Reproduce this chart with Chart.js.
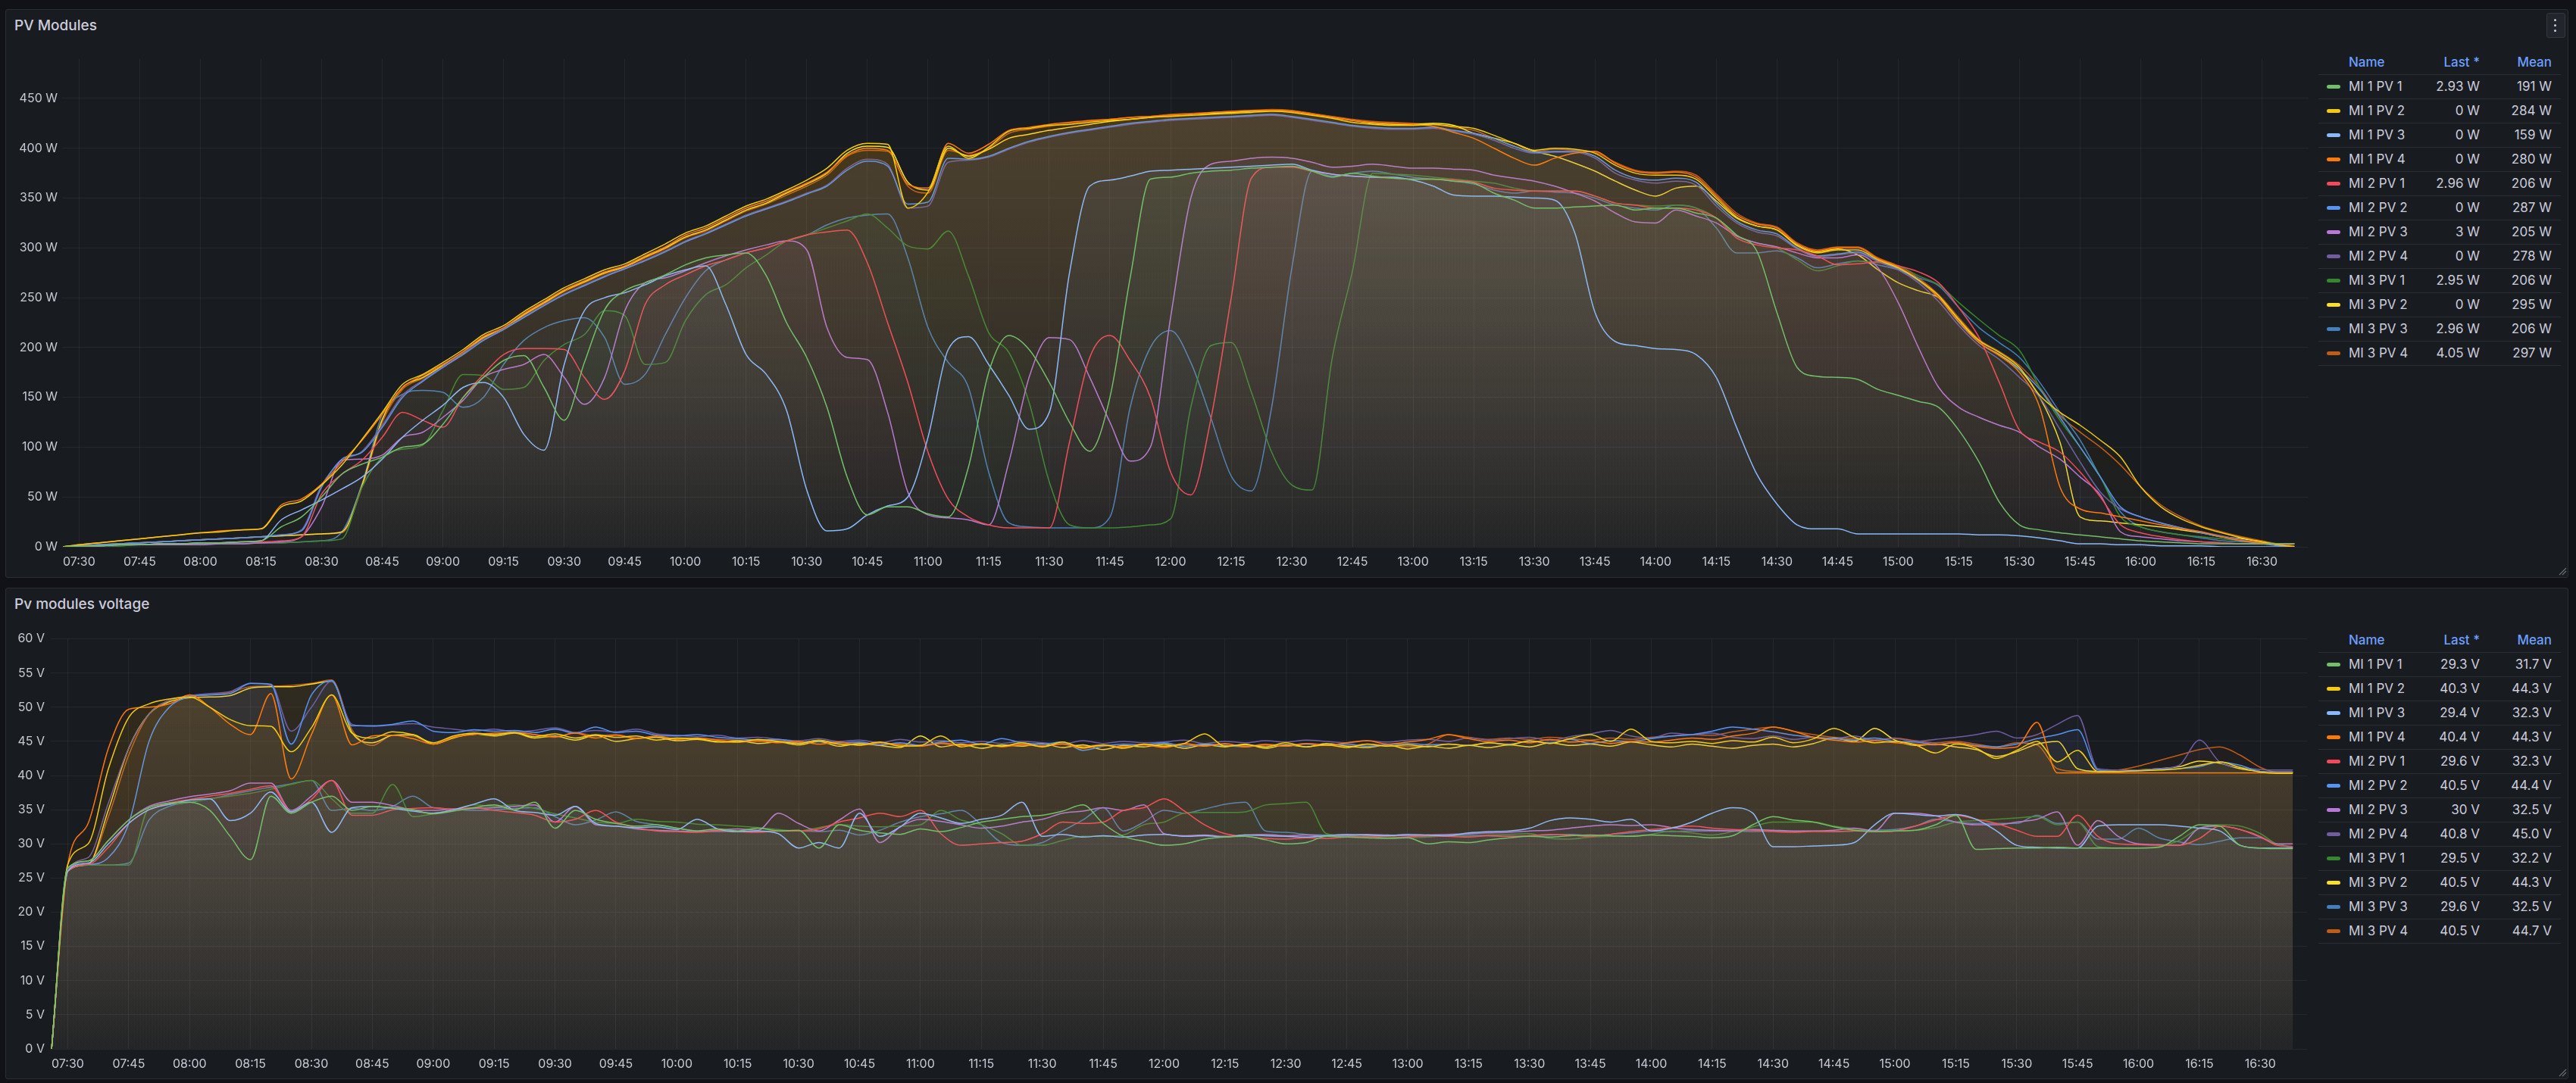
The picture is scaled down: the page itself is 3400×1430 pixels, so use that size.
<!DOCTYPE html>
<html>
<head>
<meta charset="utf-8">
<script src="https://cdn.jsdelivr.net/npm/chart.js@4.4.1/dist/chart.umd.min.js"></script>
<style>
  body { margin: 0; width: 3400px; height: 1430px; background: #111217; font-family: Inter, sans-serif; position: relative; overflow: hidden; }
  .panel { position: absolute; left: 7px; width: 3381px; background: #181b1f; border: 1px solid #2b2e34; border-radius: 3px; }
  .title { position: absolute; left: 19px; font-size: 19px; line-height: 24px; font-weight: 500; color: #ccccdc; }
  canvas { position: absolute; }
  .lg { position: absolute; font-size: 17px; line-height: 20px; color: #ccccdc; white-space: nowrap; }
  .hd { color: #6e9fff; font-weight: 500; }
  .r { text-align: right; width: 120px; }
  .sep { position: absolute; left: 3060px; width: 320px; height: 1px; background: #2a2d33; }
  .sw { position: absolute; left: 3071px; width: 18px; height: 5px; border-radius: 3px; }
</style>
</head>
<body>
<div class="panel" style="top:12px;height:749px"></div>
<div class="panel" style="top:776px;height:647px"></div>
<div class="title" style="top:22px">PV Modules</div>
<div class="title" style="top:786px">Pv modules voltage</div>
<div style="position:absolute;left:3361px;top:17px;width:23px;height:31px;background:#22252b;border:1px solid #34373e;border-radius:3px"></div>
<div style="position:absolute;left:3371px;top:25px;width:3px;height:3px;border-radius:2px;background:#ccccdc"></div>
<div style="position:absolute;left:3371px;top:32px;width:3px;height:3px;border-radius:2px;background:#ccccdc"></div>
<div style="position:absolute;left:3371px;top:39px;width:3px;height:3px;border-radius:2px;background:#ccccdc"></div>
<svg style="position:absolute;left:3376px;top:748px" width="12" height="12"><path d="M2 11 L11 2 M6 11 L11 6" stroke="#6b6e75" stroke-width="1.2"/></svg>
<svg style="position:absolute;left:3376px;top:1410px" width="12" height="12"><path d="M2 11 L11 2 M6 11 L11 6" stroke="#6b6e75" stroke-width="1.2"/></svg>
<canvas id="power" width="3040" height="702" style="left:10px;top:60px;width:3040px;height:702px"></canvas>
<canvas id="voltage" width="3040" height="599" style="left:10px;top:826px;width:3040px;height:599px"></canvas>
<script>
// sample times (about every 5 minutes)
const times = [
  '07:26','07:30','07:35','07:40','07:45','07:50','07:55','08:00','08:05','08:10','08:15','08:20',
  '08:25','08:30','08:35','08:40','08:45','08:50','08:55','09:00','09:05','09:10','09:15','09:20',
  '09:25','09:30','09:35','09:40','09:45','09:50','09:55','10:00','10:05','10:10','10:15','10:20',
  '10:25','10:30','10:35','10:40','10:45','10:50','10:55','11:00','11:05','11:10','11:15','11:20',
  '11:25','11:30','11:35','11:40','11:45','11:50','11:55','12:00','12:05','12:10','12:15','12:20',
  '12:25','12:30','12:35','12:40','12:45','12:50','12:55','13:00','13:05','13:10','13:15','13:20',
  '13:25','13:30','13:35','13:40','13:45','13:50','13:55','14:00','14:05','14:10','14:15','14:20',
  '14:25','14:30','14:35','14:40','14:45','14:50','14:55','15:00','15:05','15:10','15:15','15:20',
  '15:25','15:30','15:35','15:40','15:45','15:50','15:55','16:00','16:05','16:10','16:15','16:20',
  '16:25','16:30','16:34','16:38'];

const xTickLabels = ['07:30','07:45','08:00','08:15','08:30','08:45','09:00','09:15','09:30','09:45',
  '10:00','10:15','10:30','10:45','11:00','11:15','11:30','11:45','12:00','12:15','12:30','12:45',
  '13:00','13:15','13:30','13:45','14:00','14:15','14:30','14:45','15:00','15:15','15:30','15:45',
  '16:00','16:15','16:30'];
const powerTicks = [0, 50, 100, 150, 200, 250, 300, 350, 400, 450];
const voltTicks = [0, 5, 10, 15, 20, 25, 30, 35, 40, 45, 50, 55, 60];

const seriesNames = ['MI 1 PV 1','MI 1 PV 2','MI 1 PV 3','MI 1 PV 4','MI 2 PV 1','MI 2 PV 2',
  'MI 2 PV 3','MI 2 PV 4','MI 3 PV 1','MI 3 PV 2','MI 3 PV 3','MI 3 PV 4'];
const colors = ['#73BF69','#F2CC0C','#8AB8FF','#FF780A','#F2495C','#5794F2',
  '#B877D9','#705DA0','#37872D','#FADE2A','#447EBC','#C15C17'];

const powerLast = [2.93, 0, 0, 0, 2.96, 0, 3, 0, 2.95, 0, 2.96, 4.05];
const powerMean = [191, 284, 159, 280, 206, 287, 205, 278, 206, 295, 206, 297];
const voltLast = [29.3, 40.3, 29.4, 40.4, 29.6, 40.5, 30, 40.8, 29.5, 40.5, 29.6, 40.5];
const voltMean = [31.7, 44.3, 32.3, 44.3, 32.3, 44.4, 32.5, 45.0, 32.2, 44.3, 32.5, 44.7];

// ---- power (W) ----
const powerMI1PV1 = [0,1,1,2,2,3,3,4,4,5,6,20,
  30,50,73,83,90,100,103,123,150,170,187,192,
  160,127,185,238,257,265,273,283,290,293,295,272,
  225,190,140,70,32,40,40,33,30,80,175,212,
  198,165,125,96,150,270,369,371,375,377,378,380,
  381,382,377,371,375,372,370,369,369,367,365,355,
  348,340,340,341,342,343,338,340,340,335,330,313,
  297,235,180,171,170,168,158,152,146,140,117,85,
  45,22,17,14,12,10,8,6,5,4,3,3,
  3,3,3,3];
const powerMI1PV2 = [0,2,4,6,8,10,12,14,15,17,18,40,
  46,62,82,108,135,163,173,185,198,213,222,236,
  248,260,269,278,284,294,304,315,322,332,342,349,
  358,368,380,398,405,404,340,356,402,390,401,417,
  420,423,424,426,428,429,431,432,433,434,435,436,
  437,436,433,430,426,424,423,423,424,422,420,413,
  405,398,400,399,395,383,375,373,373,369,350,331,
  322,318,302,295,298,298,288,280,268,252,228,207,
  195,180,152,135,122,107,90,60,40,28,20,14,
  9,5,2,0];
const powerMI1PV3 = [0,1,1,2,2,3,3,4,4,5,6,27,
  37,47,58,70,88,110,127,142,160,165,150,113,
  97,183,237,250,255,263,272,278,282,243,193,173,
  137,57,16,18,32,41,50,110,198,211,183,152,
  118,135,275,362,368,372,377,378,379,380,381,382,
  383,384,378,374,372,371,371,368,362,353,352,352,
  351,350,348,315,235,206,202,199,198,193,170,120,
  73,43,22,18,18,13,13,13,13,13,13,12,
  12,11,9,6,3,3,2,2,1,1,1,0,
  0,0,0,0];
const powerMI1PV4 = [0,2,4,6,8,10,12,14,16,17,18,42,
  48,63,85,107,133,160,172,183,196,211,220,234,
  246,258,267,276,282,292,301,313,320,330,340,347,
  356,365,376,393,400,398,364,360,405,395,404,418,
  421,424,426,428,429,431,432,433,434,436,437,438,
  438,437,434,431,428,426,425,424,422,416,410,400,
  390,383,390,395,397,385,377,375,376,371,352,333,
  324,320,304,297,300,300,289,281,268,250,226,205,
  192,175,140,60,38,34,30,26,22,18,15,10,
  6,4,2,0];
const powerMI2PV1 = [0,1,1,2,2,3,3,4,4,5,5,6,
  10,53,73,87,110,135,127,120,150,173,193,199,
  199,198,170,148,177,243,263,273,282,288,295,300,
  307,313,316,318,285,225,165,95,48,30,22,19,
  19,19,105,190,212,187,150,75,52,129,250,370,
  381,381,377,374,372,371,370,369,369,368,366,360,
  358,357,357,357,352,345,343,340,340,338,330,310,
  303,300,298,292,283,284,286,282,276,265,240,210,
  165,117,105,95,75,50,22,14,10,7,5,4,
  3,3,3,3];
const powerMI2PV2 = [0,1,2,3,4,5,6,7,8,9,10,12,
  16,60,88,95,120,150,166,180,193,207,218,230,
  242,253,262,271,279,287,296,306,314,323,332,339,
  346,354,362,378,387,382,344,346,390,389,392,400,
  407,412,416,419,422,425,427,429,430,431,432,433,
  434,432,429,426,423,421,420,420,421,418,415,410,
  402,396,397,397,392,378,370,368,370,366,345,327,
  318,314,300,292,294,296,287,279,267,250,225,205,
  192,178,158,130,100,70,40,30,24,19,14,10,
  6,3,1,0];
const powerMI2PV3 = [0,1,1,2,2,2,2,2,3,3,4,5,
  10,40,87,88,92,110,115,130,147,170,178,183,
  193,170,143,170,237,265,270,277,285,292,298,303,
  307,298,220,190,188,135,55,32,29,27,22,85,
  170,210,208,170,125,86,100,230,350,384,387,390,
  391,390,386,381,382,384,382,380,380,379,378,373,
  370,367,362,355,347,335,326,325,338,332,325,312,
  305,301,295,290,290,293,280,245,200,160,140,130,
  122,115,100,88,70,52,15,10,8,6,5,4,
  3,3,3,3];
const powerMI2PV4 = [0,1,2,3,4,5,6,7,8,9,10,12,
  17,62,86,96,122,152,167,181,195,208,219,231,
  243,254,263,272,280,288,297,307,315,324,333,340,
  347,355,363,380,389,384,340,342,386,388,391,399,
  406,411,415,418,421,424,426,428,429,430,431,432,
  433,431,428,425,422,420,419,419,420,417,414,408,
  400,395,396,396,390,375,368,365,367,363,342,325,
  316,312,299,291,293,295,286,278,265,246,222,202,
  188,170,150,118,85,55,38,30,24,19,15,11,
  7,4,2,0];
const powerMI3PV1 = [0,1,1,1,2,2,2,3,3,3,4,4,
  5,6,8,60,90,98,102,137,173,172,158,160,
  187,203,213,237,232,183,185,227,253,263,280,293,
  307,313,320,327,334,320,302,299,317,272,215,195,
  145,65,22,19,19,20,22,28,140,202,205,155,
  95,62,57,190,277,375,374,373,371,369,367,365,
  360,357,357,357,352,345,343,342,343,340,330,312,
  305,300,288,277,282,287,285,282,272,263,245,228,
  212,197,160,127,100,70,30,20,15,12,10,8,
  6,4,3,3];
const powerMI3PV2 = [0,1,2,3,4,5,6,7,8,9,10,11,
  12,13,15,62,128,160,170,182,195,210,219,233,
  245,257,266,275,281,291,300,311,318,328,338,345,
  355,364,375,395,402,401,366,358,400,392,399,410,
  414,418,421,424,427,429,431,433,434,435,436,437,
  438,437,434,431,428,425,424,424,425,423,415,410,
  405,397,392,385,377,367,358,352,360,362,347,330,
  322,318,303,296,299,293,278,265,257,250,228,205,
  193,178,150,105,30,26,24,22,20,17,14,10,
  8,5,2,0];
const powerMI3PV3 = [0,1,1,1,2,2,2,3,3,3,4,4,
  5,6,15,63,133,153,157,155,140,150,183,207,
  220,227,230,210,163,173,213,250,277,288,295,300,
  307,313,323,330,333,334,290,220,185,160,75,24,
  20,19,19,19,30,140,200,217,185,129,71,56,
  140,280,377,372,375,377,374,371,369,367,364,358,
  355,357,356,355,350,343,340,338,343,340,320,295,
  295,297,290,280,284,287,283,278,270,262,240,220,
  205,190,165,135,107,70,35,20,15,12,9,6,
  5,4,3,3];
const powerMI3PV4 = [0,1,2,3,4,5,6,7,8,9,10,11,
  12,13,14,60,125,158,169,181,194,209,218,232,
  244,256,265,274,281,290,299,310,317,327,337,344,
  353,362,373,392,398,397,362,355,398,393,400,415,
  419,422,425,427,429,431,432,434,435,436,437,438,
  439,438,435,432,429,427,426,425,424,421,418,410,
  402,397,399,398,396,386,378,376,377,373,354,335,
  325,321,305,298,301,301,290,282,270,253,230,208,
  196,182,160,132,115,100,82,60,42,30,21,15,
  10,6,3,1];

// ---- voltage (V) ----
const voltMI1PV1 = [0,26.5,27.5,30.5,33.5,35.3,36.0,36.1,34.9,31.1,27.7,37.0,
  34.5,36.1,37.0,34.9,35.5,35.3,35.0,34.4,34.8,35.3,35.7,35.0,
  36.1,32.3,34.9,33.6,33.0,32.6,32.8,32.3,31.9,32.2,31.9,32.3,
  31.9,32.0,29.4,32.8,32.0,31.6,31.4,32.2,31.8,32.4,33.2,33.6,
  34.0,34.2,34.8,35.7,33.0,31.1,30.4,29.8,30.0,30.7,31.0,31.1,
  30.6,30.0,30.2,31.1,31.0,30.9,30.8,30.9,30.0,30.3,30.2,30.6,
  30.9,31.1,31.0,31.2,31.3,31.2,31.1,31.3,31.2,31.1,30.9,31.2,
  32.8,34.0,33.5,33.2,32.5,32.0,31.8,31.9,32.0,32.8,34.2,29.2,
  29.3,29.4,29.4,29.5,29.4,29.4,29.4,29.4,29.5,31.1,32.8,32.6,
  29.8,29.4,29.3,29.3];
const voltMI1PV2 = [0,27,30,41,48.5,50.5,51.2,51.5,50.0,48.2,47.3,47.2,
  43.5,47.0,51.8,46.2,45.5,46.4,46.0,44.8,45.8,46.2,46.0,46.3,
  45.7,46.1,45.5,46.0,45.6,45.8,45.2,45.5,45.4,45.0,44.9,45.3,
  45.0,44.7,45.2,44.6,44.5,44.9,44.3,44.4,45.8,44.2,44.6,44.3,
  44.8,44.2,44.9,44.1,44.5,44.0,44.6,44.3,44.7,46.1,44.3,44.5,
  44.2,44.8,44.2,44.5,44.1,44.6,44.3,44.5,44.2,44.6,44.4,44.8,
  44.5,45.1,44.7,45.4,46.0,45.0,46.8,45.0,44.8,45.0,44.7,45.1,
  44.9,45.6,44.8,45.4,46.9,45.6,44.8,45.0,44.5,43.3,44.6,44.0,
  42.5,43.7,45.0,42.0,43.7,40.6,40.6,40.7,40.8,41.0,41.5,42.0,
  41.2,40.5,40.3,40.3];
const voltMI1PV3 = [0,26,27.2,30.0,33.0,35.0,35.8,36.4,36.6,33.4,34.5,37.6,
  34.7,36.1,31.7,35.3,35.5,35.2,34.8,34.5,35.0,35.8,36.6,34.9,
  34.6,34.2,35.5,33.0,32.6,32.4,32.5,32.1,33.6,32.2,31.8,31.9,
  31.5,29.4,30.2,29.4,34.5,31.1,32.5,34.5,33.8,33.0,33.6,34.2,
  36.1,31.1,31.4,31.0,31.2,31.0,31.3,31.4,31.1,31.2,31.0,31.3,
  31.2,31.1,31.0,31.2,31.4,31.3,31.2,31.4,31.3,31.2,31.6,31.8,
  31.9,32.3,33.4,33.8,33.6,33.2,33.6,31.9,32.3,33.2,34.5,35.3,
  34.5,29.6,29.6,29.7,29.8,30.2,32.8,34.5,34.3,34.1,34.3,33.6,
  31.9,29.8,29.5,29.4,29.4,32.6,32.8,32.8,32.8,32.6,32.3,31.9,
  29.8,29.4,29.4,29.4];
const voltMI1PV4 = [0,27,33,44,49.7,50.0,50.5,51.8,50.0,47.5,46.0,52.0,
  39.5,46.0,51.8,44.5,45.8,45.9,45.4,44.6,45.6,46.0,46.2,46.3,
  46.0,45.7,46.2,45.5,45.9,45.4,45.8,45.3,45.5,45.2,44.9,45.1,
  44.8,45.0,44.6,44.9,44.4,44.8,44.5,44.3,44.7,44.4,44.6,44.2,
  44.5,44.3,44.6,44.0,44.4,44.2,44.5,44.1,44.6,44.3,44.7,44.2,
  44.5,44.3,44.7,44.4,44.8,45.1,44.6,44.9,45.3,46.0,45.4,45.0,
  45.2,44.8,45.3,44.9,45.1,44.7,45.0,44.9,45.2,45.5,45.3,45.8,
  46.2,47.1,46.5,45.6,45.2,44.9,45.1,44.8,44.6,44.5,44.8,44.3,
  44.0,44.2,47.8,40.4,40.4,40.4,40.4,40.4,40.4,40.4,40.4,40.4,
  40.4,40.4,40.4,40.4];
const voltMI2PV1 = [0,26,27.0,29.5,33.0,35.0,36.0,36.5,37.0,37.4,38.0,38.5,
  34.7,36.5,39.3,34.2,34.2,35.0,35.2,35.3,35.1,35.3,34.9,34.6,
  34.2,33.2,33.6,34.9,33.2,32.4,31.9,31.8,31.7,31.9,31.8,31.7,
  31.9,31.9,32.2,33.2,33.8,34.5,34.0,34.9,31.5,29.8,30.0,30.2,
  30.4,31.5,33.2,33.0,33.2,34.9,35.3,36.6,34.8,32.8,31.5,31.1,
  30.8,30.7,30.9,30.8,31.0,31.1,30.9,31.0,31.2,31.1,31.0,31.2,
  31.1,31.2,31.4,31.3,31.1,31.4,31.8,32.1,32.4,32.6,32.3,32.1,
  32.0,31.8,31.7,31.8,31.8,31.9,31.8,31.9,32.6,33.5,34.2,33.6,
  33.0,32.0,31.1,31.1,34.2,31.1,30.0,29.9,29.8,29.8,30.8,32.6,
  32.1,31.1,29.8,29.6];
const voltMI2PV2 = [0,26,27,28,33,45,50,51.5,51.8,52.0,53.5,53.3,
  44.6,51.8,53.9,47.3,47.3,47.5,48.0,46.5,46.3,46.7,46.5,46.6,
  46.3,46.8,46.2,47.1,46.3,46.5,45.9,45.8,46.0,45.6,45.4,45.2,
  45.3,44.9,45.1,44.8,44.9,44.5,44.8,44.4,44.9,45.2,44.6,45.4,
  44.8,44.6,44.9,43.7,44.3,44.6,44.5,44.8,44.3,44.6,44.4,44.2,
  44.5,44.3,44.6,44.4,44.6,44.3,44.5,44.7,44.5,44.6,44.4,44.8,
  44.6,45.0,44.8,45.3,44.7,45.1,45.0,45.4,45.8,46.0,46.5,47.1,
  46.8,46.4,45.9,45.6,45.4,45.2,45.5,45.0,44.9,44.6,44.8,44.4,
  44.2,44.6,45.4,46.0,46.7,40.8,40.6,40.7,40.9,41.0,41.3,42.0,
  41.5,40.6,40.5,40.5];
const voltMI2PV3 = [0,26,27.5,30.5,33.5,35.5,36.3,36.9,37.3,37.8,38.9,38.9,
  34.9,37.0,39.3,36.1,36.1,35.6,35.0,34.9,35.1,35.2,35.3,35.5,
  35.7,33.2,35.5,32.8,32.6,32.2,32.0,31.9,31.8,32.0,32.2,32.0,
  34.5,33.0,31.9,33.5,35.1,30.2,32.5,33.6,33.3,32.8,32.3,32.6,
  33.2,33.6,34.5,34.8,35.3,34.9,35.7,31.5,31.2,31.3,31.1,31.3,
  31.4,31.2,31.3,31.1,31.2,31.4,31.3,31.2,31.3,31.4,31.5,31.6,
  31.7,31.9,32.0,32.3,32.6,32.8,32.7,32.8,32.4,32.1,32.0,31.9,
  32.1,32.0,31.9,31.9,32.0,32.3,31.9,34.5,34.5,34.1,33.2,32.8,
  32.8,33.2,33.6,34.7,29.8,33.4,31.1,30.0,29.9,29.8,32.3,32.6,
  32.1,31.0,30.0,30.0];
const voltMI2PV4 = [0,26,28,36,44,49,51,51.7,52.0,52.3,53.5,53.4,
  46.5,50.0,53.8,47.5,47.2,47.4,47.6,47.1,46.8,46.5,46.8,46.4,
  46.6,47.0,46.3,46.6,46.4,46.8,46.1,45.9,45.7,45.9,45.5,45.6,
  45.3,45.1,45.4,45.0,45.2,44.8,45.3,44.9,45.1,44.8,45.0,44.7,
  45.0,44.8,44.6,45.1,44.7,45.0,44.8,44.9,45.2,44.7,45.0,44.8,
  45.1,44.9,45.2,45.0,44.8,45.1,44.9,45.2,45.3,45.0,45.5,45.2,
  45.4,45.6,45.1,45.7,46.1,46.6,45.8,45.5,46.2,46.0,46.2,45.6,
  45.4,45.8,45.3,45.6,45.4,45.8,45.2,45.4,45.0,45.3,45.6,46.0,
  46.5,45.5,46.0,47.5,48.8,41.0,40.8,40.8,41.0,41.5,45.2,42.0,
  41.2,40.9,40.8,40.8];
const voltMI3PV1 = [0,26.5,26.9,26.9,26.9,35.3,35.8,36.1,36.6,37.0,37.4,38.0,
  38.7,39.3,36.6,34.5,34.5,38.7,34.0,34.4,35.0,35.7,35.5,35.7,
  35.2,34.4,33.8,33.2,33.0,33.6,33.3,33.2,32.9,32.8,32.6,32.4,
  32.1,31.9,32.4,32.8,32.6,32.5,32.6,32.8,34.9,33.5,32.8,31.5,
  29.8,29.8,30.5,31.1,31.1,31.3,32.8,33.2,34.5,34.6,34.6,34.7,
  35.7,35.9,36.1,31.5,31.2,31.0,31.1,30.9,31.0,31.2,31.1,31.3,
  31.4,31.5,30.8,30.7,31.0,31.1,31.2,31.4,31.9,31.6,31.3,31.8,
  32.5,33.2,33.2,33.2,32.6,32.2,31.9,31.9,32.0,32.4,33.2,33.4,
  33.6,33.8,34.0,32.8,33.2,29.6,29.4,29.4,29.6,30.5,32.3,32.8,
  32.6,31.5,30.0,29.5];
const voltMI3PV2 = [0,26,27,35,44,49,50.8,51.4,51.5,51.7,52.8,53.0,
  53.0,53.4,53.8,46.3,44.8,45.9,46.0,44.6,45.5,46.1,45.8,46.2,
  45.5,45.8,45.2,45.9,45.0,45.4,45.6,45.1,45.3,44.9,45.1,44.7,
  44.9,44.5,45.0,44.3,44.7,44.4,44.1,45.8,44.2,44.6,44.0,44.5,
  44.3,44.7,44.1,44.5,43.8,44.4,44.2,44.6,44.0,44.5,44.2,44.6,
  44.0,44.5,44.2,44.7,44.3,44.1,44.5,43.9,44.3,44.0,44.4,44.1,
  44.5,44.2,44.8,44.4,44.6,44.3,44.9,44.5,44.2,44.6,44.3,44.0,
  44.4,44.6,44.2,44.7,45.5,45.0,46.9,45.2,44.4,44.6,44.2,43.8,
  42.8,43.5,44.6,45.0,41.0,40.6,40.6,40.8,41.0,41.3,42.1,41.8,
  41.0,40.6,40.5,40.5];
const voltMI3PV3 = [0,26.3,26.9,26.9,27.2,33.5,35.5,36.1,36.6,37.2,37.8,38.3,
  38.8,39.3,34.9,35.2,34.9,35.5,37.0,35.3,35.1,34.9,35.0,35.2,
  35.3,34.0,32.8,33.5,34.7,33.3,32.8,32.3,31.9,31.8,31.9,31.8,
  31.9,31.9,31.8,32.0,31.3,32.0,33.2,34.0,34.4,34.9,32.8,30.2,
  29.8,30.2,31.9,33.5,35.3,31.9,33.2,34.9,34.5,35.1,35.8,36.1,
  31.9,31.7,31.4,31.3,31.2,31.1,31.3,31.2,31.1,31.2,31.3,31.2,
  31.1,31.2,31.3,31.4,31.2,31.4,31.6,31.9,31.8,31.9,31.9,31.9,
  31.8,31.9,31.8,31.9,31.8,31.9,32.0,32.1,32.6,33.6,33.2,33.0,
  33.0,33.0,34.2,33.0,33.2,30.7,30.7,32.3,30.9,30.3,29.9,30.4,
  30.9,30.9,30.0,29.6];
const voltMI3PV4 = [0,26,27,34,43,49,51,51.6,51.8,52.2,53.0,53.1,
  53.2,53.5,54.0,46.7,44.4,45.9,45.8,44.6,45.6,46.1,46.0,46.4,
  46.0,45.6,46.3,45.8,46.0,45.5,45.7,45.4,45.5,45.3,45.2,45.0,
  45.1,44.8,45.0,44.6,44.8,44.5,44.7,44.4,44.8,44.5,44.7,44.3,
  44.6,44.4,44.7,44.3,44.5,44.2,44.6,44.3,44.7,44.4,44.6,44.3,
  44.6,44.4,44.7,44.5,44.3,44.6,44.4,44.2,44.6,46.0,45.6,45.3,
  45.5,45.3,45.6,45.4,45.2,45.5,45.3,45.6,45.8,46.0,45.9,46.4,
  46.8,47.1,46.5,46.0,45.6,45.4,45.2,45.5,45.1,44.8,45.0,44.6,
  44.2,44.8,44.5,41.0,40.6,40.6,40.8,41.4,42.2,43.0,43.8,44.2,
  43.0,41.2,40.5,40.5];

const powerSeries = [powerMI1PV1, powerMI1PV2, powerMI1PV3, powerMI1PV4, powerMI2PV1, powerMI2PV2,
  powerMI2PV3, powerMI2PV4, powerMI3PV1, powerMI3PV2, powerMI3PV3, powerMI3PV4];
const voltSeries = [voltMI1PV1, voltMI1PV2, voltMI1PV3, voltMI1PV4, voltMI2PV1, voltMI2PV2,
  voltMI2PV3, voltMI2PV4, voltMI3PV1, voltMI3PV2, voltMI3PV3, voltMI3PV4];

function toMin(t) {
  var p = t.split(':');
  return parseInt(p[0], 10) * 60 + parseInt(p[1], 10);
}

function rgba(hex, a) {
  var n = parseInt(hex.slice(1), 16);
  return 'rgba(' + (n >> 16) + ',' + ((n >> 8) & 255) + ',' + (n & 255) + ',' + a + ')';
}

Chart.defaults.font.family = 'Inter';
Chart.defaults.color = '#c8c9d3';

function makeChart(id, series, yMax, yTicks, unit, axisWidth, padTop, padRight, tickPad) {
  var datasets = series.map(function (vals, i) {
    return {
      label: seriesNames[i],
      data: vals.map(function (v, k) { return { x: toMin(times[k]), y: v }; }),
      borderColor: colors[i],
      borderWidth: 1.5,
      pointRadius: 0,
      cubicInterpolationMode: 'monotone',
      fill: 'origin',
      backgroundColor: function (ctx) {
        var area = ctx.chart.chartArea;
        if (!area) return 'transparent';
        var g = ctx.chart.ctx.createLinearGradient(0, area.top, 0, area.bottom);
        g.addColorStop(0, rgba(colors[i], 0.07));
        g.addColorStop(1, rgba(colors[i], 0.008));
        return g;
      }
    };
  });
  return new Chart(document.getElementById(id), {
    type: 'line',
    data: { datasets: datasets },
    options: {
      responsive: false,
      animation: false,
      devicePixelRatio: 1,
      layout: { padding: { left: 0, right: padRight, top: padTop, bottom: 0 } },
      plugins: { legend: { display: false }, tooltip: { enabled: false } },
      scales: {
        x: {
          type: 'linear',
          min: 445.8,
          max: 1001.5,
          afterBuildTicks: function (s) { s.ticks = xTickLabels.map(function (t) { return { value: toMin(t) }; }); },
          afterFit: function (s) { s.height = 40; },
          grid: { color: 'rgba(204,204,220,0.075)', drawTicks: false },
          border: { display: false },
          ticks: {
            autoSkip: false, maxRotation: 0, padding: 11, font: { size: 16 },
            callback: function (v, idx) { return xTickLabels[idx]; }
          }
        },
        y: {
          min: 0,
          max: yMax,
          afterBuildTicks: function (s) { s.ticks = yTicks.map(function (v) { return { value: v }; }); },
          afterFit: function (s) { s.width = axisWidth; },
          grid: { color: 'rgba(204,204,220,0.075)', drawTicks: false },
          border: { display: false },
          ticks: { padding: tickPad, font: { size: 16 }, callback: function (v) { return v + ' ' + unit; } }
        }
      }
    }
  });
}

makeChart('power', powerSeries, 489.5, powerTicks, 'W', 72, 18, 3, 6);
makeChart('voltage', voltSeries, 60, voltTicks, 'V', 57, 15, 5, 8);

// legend tables
function addDiv(cls, left, top, text, extra) {
  var d = document.createElement('div');
  d.className = cls;
  d.style.left = left + 'px';
  d.style.top = top + 'px';
  if (extra) d.style.cssText += extra;
  d.textContent = text;
  document.body.appendChild(d);
  return d;
}

function legendTable(headY, lastVals, meanVals, fmtLast, fmtMean) {
  addDiv('lg hd', 3100, headY - 10, 'Name');
  addDiv('lg hd r', 3153, headY - 10, 'Last *');
  addDiv('lg hd r', 3248, headY - 10, 'Mean');
  for (var k = 0; k <= seriesNames.length; k++) {
    addDiv('sep', 3060, headY + 16 + 32 * k, '');
  }
  seriesNames.forEach(function (name, i) {
    var cy = headY + 32 * (i + 1);
    addDiv('sw', 3071, cy - 2, '', 'background:' + colors[i]);
    addDiv('lg', 3100, cy - 10, name);
    addDiv('lg r', 3153, cy - 10, fmtLast(lastVals[i]));
    addDiv('lg r', 3248, cy - 10, fmtMean(meanVals[i]));
  });
}

legendTable(82, powerLast, powerMean,
  function (v) { return v + ' W'; }, function (v) { return v + ' W'; });
legendTable(845, voltLast, voltMean,
  function (v) { return v + ' V'; }, function (v) { return v.toFixed(1) + ' V'; });
</script>
</body>
</html>
